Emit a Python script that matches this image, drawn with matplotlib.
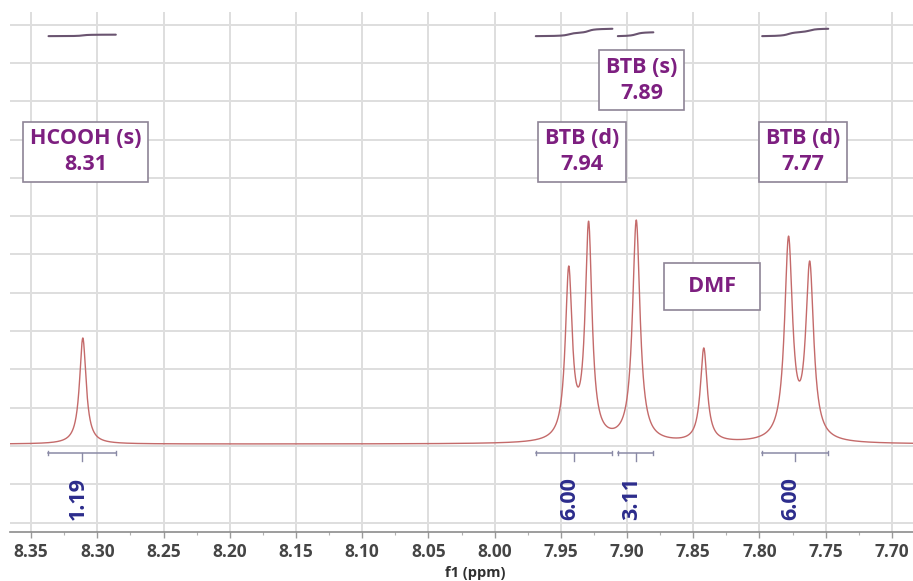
import numpy as np
import matplotlib
matplotlib.use("Agg")
import matplotlib.pyplot as plt
from matplotlib.ticker import MultipleLocator, FixedLocator

# ---- 1H NMR signals: chemical shift (ppm), height above baseline, half-width (ppm)
peak_shift = [8.311, 7.944, 7.929, 7.893, 7.842, 7.778, 7.762]
peak_height = [2.77, 4.65, 5.82, 5.85, 2.51, 5.43, 4.78]
peak_width = [0.0030, 0.0031, 0.0031, 0.0034, 0.0031, 0.0036, 0.0036]
baseline_level = 0.05

# ---- integration regions (ppm) and their integrals
int_start = [8.337, 7.969, 7.907, 7.798]
int_end = [8.286, 7.911, 7.880, 7.748]
int_value = [1.19, 6.00, 3.11, 6.00]

# ---- peak assignment labels
assign_text = ["HCOOH (s)\n8.31", "BTB (d)\n7.94", "BTB (s)\n7.89", "BTB (d)\n7.77", "DMF"]

# ---- axis ticks
tick_ppm = [8.35, 8.30, 8.25, 8.20, 8.15, 8.10, 8.05, 8.00, 7.95, 7.90, 7.85, 7.80, 7.75, 7.70]
tick_text = ["8.35", "8.30", "8.25", "8.20", "8.15", "8.10", "8.05", "8.00",
             "7.95", "7.90", "7.85", "7.80", "7.75", "7.70"]

# layout (not data)
x_left, x_right = 8.366, 7.684
y_bottom, y_top = -2.245, 11.33
assign_pos = [(8.309, 7.68), (7.934, 7.68), (7.889, 9.55), (7.767, 7.68), (7.836, 4.16)]
integral_base = 10.7
integral_scale = 0.032

TXT = "#7d1f80"
NAVY = "#2c2c8c"
LINE = "#c46a6a"
GRID = "#dedede"

plt.rcParams["font.family"] = ["Open Sans", "DejaVu Sans"]


def lorentz(x, x0, g):
    return 1.0 / (1.0 + ((x - x0) / g) ** 2)


# solve amplitudes so the summed lineshape reaches each stated height
cen = np.array(peak_shift)
wid = np.array(peak_width)
M = np.array([[lorentz(ci, cj, wj) for cj, wj in zip(cen, wid)] for ci in cen])
amp = np.linalg.solve(M, np.array(peak_height))

ppm = np.linspace(x_left, x_right, 6000)
spec = np.full_like(ppm, baseline_level)
for a, c, w in zip(amp, cen, wid):
    spec += a * lorentz(ppm, c, w)

fig = plt.figure(figsize=(9.13, 5.81), dpi=100)
ax = fig.add_axes([10 / 913, 49 / 581, 903 / 913, 520 / 581])

ax.plot(ppm, spec, color=LINE, lw=1.0, zorder=3)

# integration brackets, curves and values
for s, e, v in zip(int_start, int_end, int_value):
    yb = -0.18
    ax.plot([s, e], [yb, yb], color="#8a8aa6", lw=1.1, zorder=3)
    for xe in (s, e):
        ax.plot([xe, xe], [yb - 0.06, yb + 0.06], color="#8a8aa6", lw=1.0, zorder=3)
    mid = (s + e) / 2
    ax.plot([mid, mid], [yb, yb - 0.2], color="#8a8aa6", lw=1.0, zorder=3)
    ax.text(mid + 0.003, -1.36, f"{v:.2f}", rotation=90, ha="center", va="center",
            color=NAVY, fontsize=15.5, fontweight="bold", zorder=4)

    m = (ppm <= s) & (ppm >= e)
    xs = ppm[m]
    ys = spec[m] - baseline_level
    cum = np.cumsum(ys)
    cum = cum / cum[-1]
    ax.plot(xs, integral_base + v * integral_scale * cum, color="#6a5470", lw=1.5,
            zorder=3, solid_capstyle="round")

# assignment labels
for t, (px, py) in zip(assign_text, assign_pos):
    label = t if t != "DMF" else "  DMF  "
    pad = 0.32 if t != "DMF" else 0.6
    ax.text(px, py, label, ha="center", va="center", color=TXT, fontsize=15.5,
            fontweight="bold", linespacing=1.3, zorder=5,
            bbox=dict(boxstyle=f"square,pad={pad}", fc="white", ec="#8e8496", lw=1.2))

ax.set_xlim(x_left, x_right)
ax.set_ylim(y_bottom, y_top)

ax.xaxis.set_major_locator(FixedLocator(tick_ppm))
ax.set_xticklabels(tick_text)
ax.xaxis.set_minor_locator(MultipleLocator(0.025))
ax.set_yticks(np.arange(-2, 12, 1))
ax.tick_params(axis="y", left=False, labelleft=False)
ax.tick_params(axis="x", which="major", direction="out", length=4, width=1,
               color="#9a9a9a", pad=4, labelsize=12.5, labelcolor="#454545")
ax.tick_params(axis="x", which="minor", direction="out", length=2.5, width=0.8,
               color="#b0b0b0")
for lab in ax.get_xticklabels():
    lab.set_fontweight("bold")

ax.grid(True, which="major", color=GRID, lw=1.4, zorder=0)
for sp in ("top", "left", "right"):
    ax.spines[sp].set_visible(False)
ax.spines["bottom"].set_color("#8c8c8c")
ax.spines["bottom"].set_linewidth(1.2)

ax.set_xlabel("f1 (ppm)", fontsize=10.5, fontweight="bold", color="#303030",
              labelpad=1)
ax.xaxis.set_label_coords(0.515, -0.065)

fig.savefig("out.png", dpi=100, facecolor="white")
